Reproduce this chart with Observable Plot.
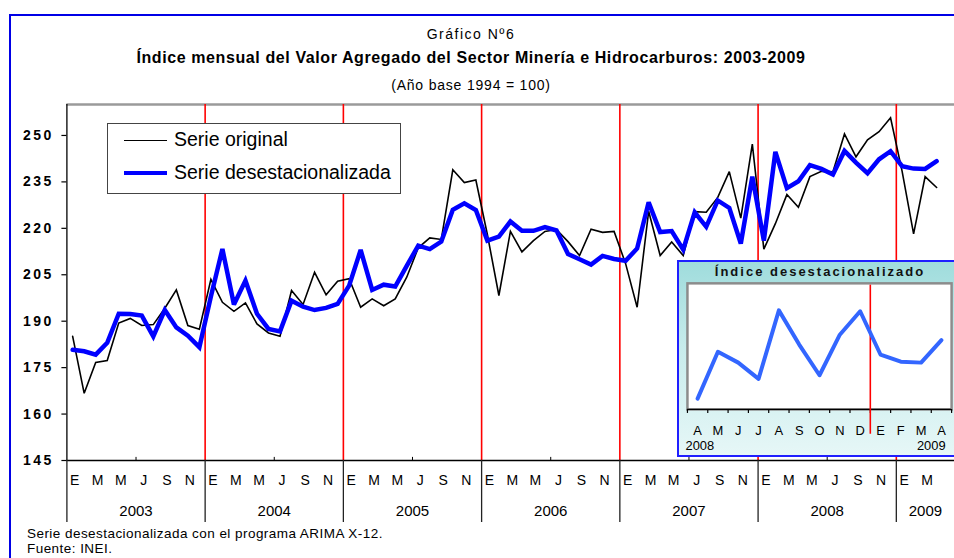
<!DOCTYPE html>
<html>
<head>
<meta charset="utf-8">
<script src="https://cdn.jsdelivr.net/npm/d3@7"></script>
<script src="https://cdn.jsdelivr.net/npm/@observablehq/plot@0.6"></script>
<style>
  body { margin: 0; background: #fff; font-family: "Liberation Sans", Arial, sans-serif; }
  #wrap { position: relative; width: 954px; height: 558px; overflow: hidden; background: #fff; }
  #frameLine { position: absolute; left: 9px; top: 14px; width: 1000px; height: 600px;
    border-left: 2px solid #0000e6; border-top: 2px solid #0000e6; }
  .ttl { position: absolute; left: 0; width: 942px; text-align: center; white-space: nowrap; color: #000; line-height: 1; }
  #main { position: absolute; left: 0; top: 0; }
  #main svg g[aria-label="y-axis tick label"] text { letter-spacing: 2.5px; }
  #legend { position: absolute; left: 107px; top: 123px; width: 292px; height: 69px;
    border: 1.5px solid #444; background: #fff; }
  .lg-line { position: absolute; left: 16px; width: 43px; }
  .lg-text { position: absolute; left: 66px; font-size: 19.5px; line-height: 1; white-space: nowrap; }
  .foot { position: absolute; left: 27px; font-size: 13.5px; letter-spacing: 0.45px; line-height: 1; white-space: nowrap; }
  #inset { position: absolute; left: 677px; top: 260px; width: 290px; height: 197px; box-sizing: border-box;
    border: 2px solid #1f1fff; background: linear-gradient(to bottom, #9fdcdc 0%, #c8ecec 45%, #e6f7f7 100%); }
  #insetTitle { position: absolute; left: 8px; width: 266px; top: 3px; text-align: center; font-weight: bold;
    font-size: 13px; letter-spacing: 2px; line-height: 1; white-space: nowrap; color: #111; }
  #insetPlot { position: absolute; left: 0; top: 0; }
</style>
</head>
<body>
<div id="wrap">
  <div id="frameLine"></div>
  <div id="main"></div>
  <div class="ttl" style="top:27px;font-size:14px;letter-spacing:1.5px;">Gráfico Nº6</div>
  <div class="ttl" style="top:50px;font-size:16px;font-weight:bold;letter-spacing:0.6px;">Índice mensual del Valor Agregado del Sector Minería e Hidrocarburos: 2003-2009</div>
  <div class="ttl" style="top:78px;font-size:14px;letter-spacing:0.8px;">(Año base 1994 = 100)</div>
  <div id="legend">
    <div class="lg-line" style="top:15.5px;height:1.5px;background:#000;"></div>
    <div class="lg-text" style="top:5.5px;">Serie original</div>
    <div class="lg-line" style="top:46.5px;height:4.5px;background:#0000ff;"></div>
    <div class="lg-text" style="top:39px;">Serie desestacionalizada</div>
  </div>
  <div class="foot" style="top:527px;">Serie desestacionalizada con el programa ARIMA X-12.</div>
  <div class="foot" style="top:542px;">Fuente: INEI.</div>
  <div id="inset">
    <div id="insetPlot"></div>
    <div id="insetTitle">Índice desestacionalizado</div>
  </div>
</div>
<script>
// ---- Data (Jan 2003 – Apr 2009) ----
const monthLetters = ["E","F","M","A","M","J","J","A","S","O","N","D"];
const years = [2003, 2004, 2005, 2006, 2007, 2008, 2009];
const yTicks = [145, 160, 175, 190, 205, 220, 235, 250];

const original = [
  185.1, 166.7, 176.7, 177.3, 189.4, 190.9, 188.6, 188.9, 194.2, 200.1, 188.6, 187.4,
  203.5, 196.1, 193.2, 195.9, 189.1, 186.2, 185.1, 199.9, 195.4, 205.8, 198.5, 202.9,
  203.7, 194.5, 197.2, 195.0, 197.2, 204.2, 213.7, 216.9, 216.4, 238.9, 234.8, 235.6,
  218.0, 198.3, 219.0, 212.4, 216.0, 219.0, 219.6, 215.7, 211.2, 219.7, 218.7, 219.0,
  208.6, 194.5, 225.5, 211.2, 215.6, 211.2, 225.4, 225.2, 230.0, 238.3, 223.3, 247.2,
  213.3, 221.5, 230.9, 226.8, 236.7, 238.4, 238.3, 250.5, 243.1, 248.6, 251.2, 255.7,
  238.5, 218.2, 236.7, 233.2
];
const seasonal = [
  180.8, 180.3, 179.2, 183.0, 192.4, 192.3, 191.8, 185.1, 193.6, 188.0, 185.3, 181.6,
  198.0, 213.3, 195.4, 203.1, 192.4, 187.5, 186.7, 196.6, 194.7, 193.6, 194.3, 195.6,
  201.5, 213.0, 200.1, 201.8, 201.2, 207.9, 214.4, 213.3, 215.7, 226.0, 228.1, 225.9,
  216.0, 217.3, 222.2, 219.2, 219.2, 220.4, 219.3, 211.7, 210.0, 208.3, 211.1, 210.1,
  209.5, 213.5, 228.4, 218.8, 219.1, 213.1, 225.2, 220.5, 229.0, 226.6, 215.1, 236.7,
  216.0, 244.7, 233.0, 235.2, 240.4, 239.2, 237.4, 245.0, 241.2, 237.8, 242.3, 244.9,
  240.1, 239.3, 239.2, 241.7
];
const insetStartIndex = 63;   // April 2008
const insetYDomain = [234, 248];
const insetYearLabels = ["2008", "2009"];

// ---- Main chart ----
const n = original.length;
const data = original.map((v, i) => ({i, orig: v, sa: seasonal[i]}));
const axisEnd = 77.05; // the horizontal axis runs slightly past the last month (clipped at the right)
const yearStarts = years.map((y, k) => k * 12);
const midYears = years.slice(0, -1).map((y, k) => k * 12 + 6);
const labelTicks = d3.range(0, n, 2).map(i => i + 0.5);
const yearCenters = years.map((y, k) => (k * 12 + Math.min(k * 12 + 12, axisEnd)) / 2);
const yMin = yTicks[0], yMax = 260;

const main = Plot.plot({
  width: 954, height: 558,
  marginLeft: 66.4, marginRight: 12.1, marginTop: 104, marginBottom: 98,
  style: {fontFamily: "'Liberation Sans', Arial, sans-serif", background: "transparent", overflow: "visible"},
  x: {domain: [0, n]},
  y: {domain: [yMin, yMax]},
  marks: [
    Plot.ruleY([yMax], {x1: 0, x2: axisEnd, stroke: "#9a9a9a", strokeWidth: 2.5}),
    Plot.ruleX(yearStarts.slice(1), {y1: yMin, y2: yMax, stroke: "#ff0000", strokeWidth: 1.6}),
    Plot.ruleX(midYears, {y1: yMin, y2: yMin + 1, stroke: "#000", strokeWidth: 1}),
    Plot.ruleY([yMin], {x1: 0, x2: axisEnd, stroke: "#000", strokeWidth: 1.3}),
    Plot.ruleX([0], {y1: yMin, y2: yMax, stroke: "#000", strokeWidth: 1.3}),
    Plot.axisX({ticks: yearStarts, tickSize: 62, tickFormat: () => "", stroke: "#222", strokeWidth: 1.3}),
    Plot.axisY({ticks: yTicks, tickSize: 5, tickPadding: 8, fontSize: 14, fontWeight: "bold", strokeWidth: 1.2}),
    Plot.axisX({ticks: labelTicks, tickSize: 0, tickPadding: 15, fontSize: 14, dx: 2,
      tickFormat: d => monthLetters[Math.floor(d) % 12]}),
    Plot.axisX({ticks: yearCenters, tickSize: 0, tickPadding: 45, fontSize: 15,
      tickFormat: d => String(years[Math.floor(d / 12)])}),
    Plot.line(data, {x: d => d.i + 0.5, y: "orig", stroke: "#000", strokeWidth: 1.6,
      strokeLinejoin: "miter", strokeMiterlimit: 3}),
    Plot.line(data, {x: d => d.i + 0.5, y: "sa", stroke: "#0000ff", strokeWidth: 4.5,
      strokeLinejoin: "miter", strokeMiterlimit: 3})
  ]
});
document.getElementById("main").appendChild(main);

// ---- Inset: last 13 months of the seasonally adjusted series ----
const insetData = data.slice(insetStartIndex).map((d, k) => ({k, i: d.i, sa: d.sa}));
const m = insetData.length;
const yearBreak = insetData.findIndex(d => d.i % 12 === 0);
const inset = Plot.plot({
  width: 288, height: 193,
  marginLeft: 8, marginRight: 14, marginTop: 21, marginBottom: 45,
  style: {fontFamily: "'Liberation Sans', Arial, sans-serif", background: "transparent", overflow: "visible"},
  x: {domain: [0, m]},
  y: {domain: insetYDomain, axis: null},
  marks: [
    Plot.frame({fill: "#fff", stroke: "#8c8c8c", strokeWidth: 2.5}),
    Plot.ruleY([insetYDomain[0]], {stroke: "#000", strokeWidth: 1.3}),
    Plot.axisX({ticks: d3.range(0, m + 1), tickSize: 4, tickFormat: () => "", strokeWidth: 1.2}),
    Plot.axisX({ticks: insetData.map(d => d.k + 0.5), tickSize: 0, tickPadding: 16, fontSize: 13,
      tickFormat: d => monthLetters[insetData[Math.floor(d)].i % 12]}),
    Plot.text([insetYearLabels[0]], {x: 0, y: insetYDomain[0], dy: 37, dx: -2, textAnchor: "start", fontSize: 13}),
    Plot.text([insetYearLabels[1]], {x: m, y: insetYDomain[0], dy: 37, dx: -6, textAnchor: "end", fontSize: 13}),
    Plot.ruleX([yearBreak], {y1: insetYDomain[0] - 2.75, y2: insetYDomain[1] - 0.2, stroke: "#ff0000", strokeWidth: 1.6}),
    Plot.line(insetData, {x: d => d.k + 0.5, y: "sa", stroke: "#3366ff", strokeWidth: 4, strokeLinejoin: "round"})
  ]
});
document.getElementById("insetPlot").appendChild(inset);
</script>
</body>
</html>
